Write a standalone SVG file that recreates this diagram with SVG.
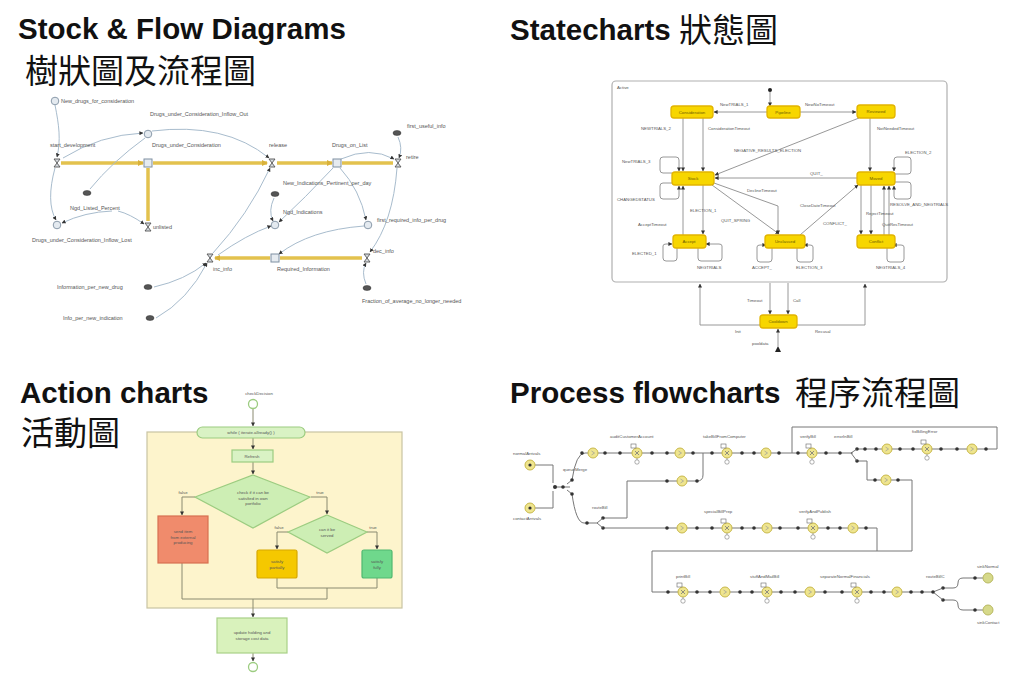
<svg xmlns="http://www.w3.org/2000/svg" width="1024" height="688" viewBox="0 0 1024 688">
<defs>
<style>
.title{font-family:"Liberation Sans",Arial,sans-serif;font-weight:bold;font-size:29.5px;fill:#111}
.cjk{font-family:"Liberation Sans","Noto Sans CJK TC",sans-serif;font-size:33px;fill:#111}
.sf{font-family:"Liberation Sans",Arial,sans-serif;font-size:5.5px;fill:#555}
.sm{font-family:"Liberation Sans",Arial,sans-serif;font-size:4.3px;fill:#555}
.st{font-family:"Liberation Sans",Arial,sans-serif;font-size:4.3px;fill:#6a5a00;text-anchor:middle}
.ac{font-family:"Liberation Sans",Arial,sans-serif;font-size:4.3px;fill:#555;text-anchor:middle}
.pipe{stroke:#e3c24e;stroke-width:3.5;fill:none}
.con{stroke:#a8bccd;stroke-width:1;fill:none}
.aux{fill:#e4eaf0;stroke:#8a9aaa;stroke-width:1}
.stock{fill:#e6ebf0;stroke:#7f90a2;stroke-width:1}
.cloud{fill:#555;stroke:#333;stroke-width:0.5}
.tr{stroke:#8c8c8c;stroke-width:0.9;fill:none}
.state{fill:#f7d600;stroke:#e2b400;stroke-width:1.3}
.al{stroke:#8a8a70;stroke-width:1;fill:none}
.pl{stroke:#777;stroke-width:1;fill:none}
.dot{fill:#333}
.dl{fill:#efe58e;stroke:#c8b84a;stroke-width:1}
.sink{fill:#d6d98a;stroke:#b8b860;stroke-width:1}
</style>
<marker id="ah" markerUnits="userSpaceOnUse" markerWidth="4" markerHeight="4" refX="3.6" refY="2" orient="auto"><path d="M0,0L4,2L0,4z" fill="#333"/></marker>
<marker id="ap" markerUnits="userSpaceOnUse" markerWidth="6" markerHeight="6" refX="5" refY="3" orient="auto"><path d="M0,0L6,3L0,6z" fill="#d9b13a"/></marker>
<g id="valve"><path d="M-3,-4L3,-4L-3,4L3,4Z" fill="#d6dbe0" stroke="#555" stroke-width="0.9"/></g>
<g id="svc"><circle r="5" class="dl"/><rect x="-6" y="-9" width="5" height="4" fill="#fff" stroke="#666" stroke-width="0.6"/><path d="M-2,-2L2,2M-2,2L2,-2" stroke="#777" stroke-width="0.8"/><line x1="0" y1="5" x2="0" y2="7" stroke="#777" stroke-width="0.6"/><circle cy="9" r="2.2" fill="#fff" stroke="#777" stroke-width="0.6"/></g>
<g id="dly"><circle r="5" class="dl"/><path d="M-1.5,-2L1.5,0L-1.5,2" fill="none" stroke="#999" stroke-width="0.7"/></g>
</defs>
<rect width="1024" height="688" fill="#fff"/>

<g id="titles">
<text class="title" x="18" y="39">Stock &amp; Flow Diagrams</text>
<text class="cjk" x="25" y="83">樹狀圖及流程圖</text>
<text class="title" x="510" y="40">Statecharts</text>
<text class="cjk" x="679" y="42">狀態圖</text>
<text class="title" x="20" y="403">Action charts</text>
<text class="cjk" x="21" y="445">活動圖</text>
<text class="title" x="510" y="403">Process flowcharts</text>
<text class="cjk" x="795" y="405">程序流程圖</text>
</g>

<!-- ================= STOCK & FLOW ================= -->
<g id="sf-connectors">
<path class="pipe" d="M61,163H143" marker-end="url(#ap)"/>
<path class="pipe" d="M153,163H267" marker-end="url(#ap)"/>
<path class="pipe" d="M148,168V221"/>
<path class="pipe" d="M277,163H332" marker-end="url(#ap)"/>
<path class="pipe" d="M342,163H393"/>
<path class="pipe" d="M270,258H215" marker-end="url(#ap)"/>
<path class="pipe" d="M280,258H362"/>
<path class="con" d="M55,105C59,125 61,140 57,157" marker-end="url(#ah)"/>
<path class="con" d="M63,158Q100,135 143,133" marker-end="url(#ah)"/>
<path class="con" d="M152,131Q225,122 269,158" marker-end="url(#ah)"/>
<path class="con" d="M55,168C49,190 49,208 56,220" marker-end="url(#ah)"/>
<path class="con" d="M145,138Q112,162 90,189"/>
<path class="con" d="M118,211Q130,214 144,224" marker-end="url(#ah)"/>
<path class="con" d="M112,211Q85,212 62,223" marker-end="url(#ah)"/>
<path class="con" d="M213,253Q248,215 270,168" marker-end="url(#ah)"/>
<path class="con" d="M218,255Q246,235 271,226" marker-end="url(#ah)"/>
<path class="con" d="M154,287Q185,280 206,263" marker-end="url(#ah)"/>
<path class="con" d="M156,318Q188,300 207,263" marker-end="url(#ah)"/>
<path class="con" d="M274,198Q268,211 273,221" marker-end="url(#ah)"/>
<path class="con" d="M333,168Q305,198 279,222" marker-end="url(#ah)"/>
<path class="con" d="M340,168Q360,190 366,220" marker-end="url(#ah)"/>
<path class="con" d="M341,159Q370,146 394,159" marker-end="url(#ah)"/>
<path class="con" d="M398,137Q403,148 399,158" marker-end="url(#ah)"/>
<path class="con" d="M397,168Q393,222 370,252" marker-end="url(#ah)"/>
<path class="con" d="M364,226Q310,230 279,254" marker-end="url(#ah)"/>
<path class="con" d="M366,284Q361,272 366,263" marker-end="url(#ah)"/>
</g>
<g id="sf-nodes">
<g id="n-new-drugs"><circle cx="55" cy="101" r="3.8" class="aux"/><text class="sf" x="61" y="103">New_drugs_for_consideration</text></g>
<g id="n-inflow-out"><circle cx="148" cy="134" r="3.8" class="aux"/><text class="sf" x="150" y="116">Drugs_under_Consideration_Inflow_Out</text></g>
<g id="n-start"><use href="#valve" x="57" y="163"/><text class="sf" x="50" y="147">start_development</text></g>
<g id="n-duc"><rect x="144" y="159" width="8" height="8" class="stock"/><text class="sf" x="152" y="147">Drugs_under_Consideration</text></g>
<g id="n-release"><use href="#valve" x="272" y="163"/><text class="sf" x="269" y="147">release</text></g>
<g id="n-dol"><rect x="333" y="159" width="8" height="8" class="stock"/><text class="sf" x="332" y="147">Drugs_on_List</text></g>
<g id="n-retire"><use href="#valve" x="398" y="163"/><text class="sf" x="406" y="159">retire</text></g>
<g id="n-first-useful"><ellipse cx="397" cy="133" rx="4" ry="2.5" class="cloud"/><text class="sf" x="407" y="128">first_useful_info</text></g>
<g id="n-new-ind"><ellipse cx="275" cy="194" rx="4" ry="2.5" class="cloud"/><text class="sf" x="283" y="185">New_Indications_Pertinent_per_day</text></g>
<g id="n-ngd-ind"><circle cx="275" cy="225" r="3.8" class="aux"/><text class="sf" x="283" y="214">Ngd_Indications</text></g>
<g id="n-first-req"><circle cx="368" cy="225" r="3.8" class="aux"/><text class="sf" x="377" y="222">first_required_info_per_drug</text></g>
<g id="n-req"><rect x="271" y="254" width="8" height="8" class="stock"/><text class="sf" x="277" y="271">Required_Information</text></g>
<g id="n-dec"><use href="#valve" x="367" y="258"/><text class="sf" x="373" y="253">dec_info</text></g>
<g id="n-fraction"><ellipse cx="367" cy="288" rx="4" ry="2.5" class="cloud"/><text class="sf" x="362" y="303">Fraction_of_average_no_longer_needed</text></g>
<g id="n-ngd-listed"><ellipse cx="87" cy="193" rx="4" ry="2.5" class="cloud"/><text class="sf" x="70" y="210">Ngd_Listed_Percent</text></g>
<g id="n-inflow-lost"><circle cx="57" cy="225" r="3.8" class="aux"/><text class="sf" x="32" y="242">Drugs_under_Consideration_Inflow_Lost</text></g>
<g id="n-unlisted"><use href="#valve" x="148" y="227"/><text class="sf" x="153" y="229">unlisted</text></g>
<g id="n-inc"><use href="#valve" x="210" y="258"/><text class="sf" x="213" y="271">inc_info</text></g>
<g id="n-info-drug"><ellipse cx="148" cy="287" rx="4" ry="2.5" class="cloud"/><text class="sf" x="57" y="289">Information_per_new_drug</text></g>
<g id="n-info-ind"><ellipse cx="150" cy="318" rx="4" ry="2.5" class="cloud"/><text class="sf" x="63" y="320">Info_per_new_indication</text></g>
</g>

<!-- ================= STATECHART ================= -->
<g id="sc-box"><rect x="612" y="81" width="335" height="201" rx="4" fill="#fff" stroke="#b0b0b0" stroke-width="1.2"/><text class="sm" x="617" y="89">Active</text></g>
<g id="sc-connectors">
<circle cx="770" cy="90" r="2" fill="#222"/>
<path class="tr" d="M770,92V106" marker-end="url(#ah)"/>
<path class="tr" d="M767,112H714" marker-end="url(#ah)"/>
<path class="tr" d="M800,112H856" marker-end="url(#ah)"/>
<path class="tr" d="M683,118V171" marker-end="url(#ah)"/>
<path class="tr" d="M703,118V171" marker-end="url(#ah)"/>
<path class="tr" d="M859,118L715,175" marker-end="url(#ah)"/>
<path class="tr" d="M857,178H715" marker-end="url(#ah)"/>
<path class="tr" d="M672,173H663Q660,173 660,170V160Q660,157 663,157H676Q679,157 679,160V171" marker-end="url(#ah)"/>
<path class="tr" d="M672,183H663Q660,183 660,186V196Q660,199 663,199H676Q679,199 679,196V186" marker-end="url(#ah)"/>
<path class="tr" d="M683,235V186" marker-end="url(#ah)"/>
<path class="tr" d="M703,185V234" marker-end="url(#ah)"/>
<path class="tr" d="M712,185L779,234" marker-end="url(#ah)"/>
<path class="tr" d="M714,183L778,206V234" marker-end="url(#ah)"/>
<path class="tr" d="M800,235L858,185" marker-end="url(#ah)"/>
<path class="tr" d="M870,118V171" marker-end="url(#ah)"/>
<path class="tr" d="M895,174H908Q911,174 911,171V160Q911,157 908,157H897Q894,157 894,160V171" marker-end="url(#ah)"/>
<path class="tr" d="M895,182H908Q911,182 911,185V196Q911,199 908,199H897Q894,199 894,196V186" marker-end="url(#ah)"/>
<path class="tr" d="M861,185V234" marker-end="url(#ah)"/>
<path class="tr" d="M871,185V234" marker-end="url(#ah)"/>
<path class="tr" d="M884,235V186" marker-end="url(#ah)"/>
<path class="tr" d="M889,235V186" marker-end="url(#ah)"/>
<path class="tr" d="M677,248V258Q677,261 674,261H666Q663,261 663,258V246Q663,244 666,244H672" marker-end="url(#ah)"/>
<path class="tr" d="M698,248V258Q698,261 701,261H719Q722,261 722,258V246Q722,244 719,244H706" marker-end="url(#ah)"/>
<path class="tr" d="M772,248V259Q772,262 769,262H760Q757,262 757,259V247Q757,245 760,245H766" marker-end="url(#ah)"/>
<path class="tr" d="M797,248V259Q797,262 800,262H810Q813,262 813,259V247Q813,245 810,245H804" marker-end="url(#ah)"/>
<path class="tr" d="M887,248V259Q887,262 890,262H901Q904,262 904,259V247Q904,245 901,245H893" marker-end="url(#ah)"/>
<path class="tr" d="M760,325H700V284" marker-end="url(#ah)"/>
<path class="tr" d="M797,325H865V284" marker-end="url(#ah)"/>
<path class="tr" d="M770,283V314" marker-end="url(#ah)"/>
<path class="tr" d="M788,283V314" marker-end="url(#ah)"/>
<path class="tr" d="M778,346V329" marker-end="url(#ah)"/>
<path d="M775,352L778,346L781,352Z" fill="#222"/>
<g class="sm">
<text x="720" y="106">NewTRIALS_1</text>
<text x="805" y="106">NewNoTimeout</text>
<text x="641" y="130">NEWTRIALS_2</text>
<text x="708" y="130">ConsiderationTimeout</text>
<text x="734" y="152">NEGATIVE_RESULTS_ELECTION</text>
<text x="810" y="175">QUIT_</text>
<text x="877" y="130">NotNeededTimeout</text>
<text x="622" y="163">NewTRIALS_3</text>
<text x="617" y="201">CHANGEDSTATUS</text>
<text x="905" y="154">ELECTION_2</text>
<text x="890" y="206">RESOLVE_AND_NEGTRIALS</text>
<text x="747" y="192">DeclineTimeout</text>
<text x="800" y="207">CloseDateTimeout</text>
<text x="638" y="226">AcceptTimeout</text>
<text x="690" y="212">ELECTION_1</text>
<text x="721" y="222">QUIT_SPRING</text>
<text x="823" y="225">CONFLICT_</text>
<text x="866" y="215">RejectTimeout</text>
<text x="882" y="226">QuitResTimeout</text>
<text x="632" y="255">ELECTED_1</text>
<text x="697" y="269">NEGTRIALS</text>
<text x="752" y="269">ACCEPT_</text>
<text x="796" y="269">ELECTION_3</text>
<text x="876" y="269">NEGTRIALS_4</text>
<text x="747" y="302">Timeout</text>
<text x="793" y="302">Call</text>
<text x="735" y="333">Init</text>
<text x="815" y="333">Recusal</text>
<text x="752" y="345">pooldata</text>
</g>
</g>
<g id="sc-consideration"><rect x="671" y="106" width="42" height="12" rx="3" class="state"/><text class="st" x="692" y="113.5">Consideration</text></g>
<g id="sc-pipeline"><rect x="767" y="106" width="33" height="12" rx="3" class="state"/><text class="st" x="783" y="113.5">Pipeline</text></g>
<g id="sc-reviewed"><rect x="857" y="105" width="38" height="13" rx="3" class="state"/><text class="st" x="876" y="113">Reviewed</text></g>
<g id="sc-stock"><rect x="672" y="172" width="42" height="13" rx="3" class="state"/><text class="st" x="693" y="180">Stock</text></g>
<g id="sc-moved"><rect x="857" y="172" width="38" height="13" rx="3" class="state"/><text class="st" x="876" y="180">Moved</text></g>
<g id="sc-accept"><rect x="673" y="235" width="33" height="13" rx="3" class="state"/><text class="st" x="689" y="243">Accept</text></g>
<g id="sc-unclassed"><rect x="765" y="235" width="40" height="13" rx="3" class="state"/><text class="st" x="785" y="243">Unclassed</text></g>
<g id="sc-conflict"><rect x="857" y="235" width="38" height="13" rx="3" class="state"/><text class="st" x="876" y="243">Conflict</text></g>
<g id="sc-cooldown"><rect x="760" y="315" width="37" height="13" rx="3" class="state"/><text class="st" x="778" y="323">Cooldown</text></g>

<!-- ================= ACTION CHART ================= -->
<g id="ac-panel"><rect x="147" y="432" width="255" height="176" fill="#fdf4cc" stroke="#c9c3a2" stroke-width="1.2"/></g>
<g id="ac-connectors">
<path class="al" d="M253,409V426" marker-end="url(#ah)"/>
<path class="al" d="M253,438V449" marker-end="url(#ah)"/>
<path class="al" d="M253,462V474" marker-end="url(#ah)"/>
<path class="al" d="M195,497H182V515" marker-end="url(#ah)"/>
<path class="al" d="M311,497H327V514" marker-end="url(#ah)"/>
<path class="al" d="M288,532H277V549" marker-end="url(#ah)"/>
<path class="al" d="M367,532H377V549" marker-end="url(#ah)"/>
<path class="al" d="M277,578V588H377V578M327,588V599"/>
<path class="al" d="M182,563V599H327"/>
<path class="al" d="M253,599V617" marker-end="url(#ah)"/>
<path class="al" d="M253,653V661" marker-end="url(#ah)"/>
<text class="ac" x="183" y="494">false</text>
<text class="ac" x="320" y="494">true</text>
<text class="ac" x="279" y="529">false</text>
<text class="ac" x="373" y="529">true</text>
</g>
<g id="ac-start"><text class="ac" x="259" y="395">checkDecision</text><circle cx="253" cy="404" r="4.5" fill="#fff" stroke="#9ccc80" stroke-width="1.3"/></g>
<g id="ac-while"><rect x="197" y="427" width="108" height="11" rx="5.5" fill="#d9f2c4" stroke="#9ccc80" stroke-width="1.2"/><text class="ac" x="251" y="434">while ( iterate.allready() )</text></g>
<g id="ac-refresh"><rect x="232" y="450" width="41" height="12" fill="#d9f2c4" stroke="#9ccc80" stroke-width="1.2"/><text class="ac" x="252" y="457.5">Refresh</text></g>
<g id="ac-check"><path d="M253,475L310,497L253,528L195,497Z" fill="#cdeeb4" stroke="#9ccc80" stroke-width="1.2"/><text class="ac" x="253" y="494">check if it can be</text><text class="ac" x="253" y="499.5">satisfied in own</text><text class="ac" x="253" y="505">portfolio</text></g>
<g id="ac-request"><rect x="158" y="516" width="50" height="47" fill="#f08b6c" stroke="#d87050" stroke-width="1.2"/><text class="ac" x="183" y="533" fill="#7a3a20">send item</text><text class="ac" x="183" y="538.5" fill="#7a3a20">from external</text><text class="ac" x="183" y="544" fill="#7a3a20">producing</text></g>
<g id="ac-serve"><path d="M327,515L367,532L327,553L288,532Z" fill="#cdeeb4" stroke="#9ccc80" stroke-width="1.2"/><text class="ac" x="327" y="531">can it be</text><text class="ac" x="327" y="536.5">served</text></g>
<g id="ac-partial"><rect x="257" y="550" width="40" height="28" rx="2" fill="#f5c800" stroke="#d8a800" stroke-width="1.2"/><text class="ac" x="277" y="563">satisfy</text><text class="ac" x="277" y="568.5">partially</text></g>
<g id="ac-fully"><rect x="362" y="550" width="30" height="28" rx="2" fill="#6fd88c" stroke="#50b870" stroke-width="1.2"/><text class="ac" x="377" y="563">satisfy</text><text class="ac" x="377" y="568.5">fully</text></g>
<g id="ac-update"><rect x="217" y="618" width="70" height="35" fill="#d9f2bc" stroke="#a8d088" stroke-width="1.2"/><text class="ac" x="252" y="634">update holding and</text><text class="ac" x="252" y="639.5">storage cost data</text></g>
<g id="ac-end"><circle cx="253" cy="667" r="4.5" fill="#fff" stroke="#9ccc80" stroke-width="1.3"/></g>

<!-- ================= PROCESS FLOWCHART ================= -->
<g id="pf-connectors">
<path class="pl" d="M535,465H553V483M535,508H553V491"/>
<path class="pl" d="M555,487H570"/>
<path class="pl" d="M572,480Q576,453 585,453H640"/>
<path class="pl" d="M640,453H770"/>
<path class="pl" d="M770,453H853"/>
<path class="pl" d="M572,494Q576,523 584,523H597"/>
<path class="pl" d="M603,518H627V481H697Q703,481 703,475V453"/>
<path class="pl" d="M603,528H877V551"/>
<path class="pl" d="M857,449H997V427H792V453"/>
<path class="pl" d="M857,461H867V480H912V551"/>
<path class="pl" d="M912,551H652V592H933"/>
<path class="pl" d="M943,588H953Q958,588 958,583V583Q958,578 963,578H983M943,600H953Q958,600 958,605Q958,610 963,610H983"/>
</g>
<g id="pf-nodes">
<g id="p-src1"><circle cx="530" cy="465" r="5" class="dl"/><circle cx="530" cy="465" r="1.6" fill="#333"/><text class="sm" x="513" y="455">normalArrivals</text></g>
<g id="p-src2"><circle cx="530" cy="508" r="5" class="dl"/><circle cx="530" cy="508" r="1.6" fill="#333"/><text class="sm" x="513" y="520">contactArrivals</text></g>
<g id="p-combine"><circle cx="555" cy="487" r="2" class="dot"/><circle cx="563" cy="487" r="1.8" class="dot"/><text class="sm" x="563" y="471">queueMerge</text></g>
<g id="p-sel1"><path d="M567,484L572,480M567,490L572,494" stroke="#555" stroke-width="0.8"/><circle cx="572" cy="480" r="1.8" class="dot"/><circle cx="572" cy="494" r="1.8" class="dot"/></g>
<g id="p-row1" class="dot">
<circle cx="582" cy="453" r="1.8"/><circle cx="605" cy="453" r="1.8"/><circle cx="620" cy="453" r="1.8"/><circle cx="652" cy="453" r="1.8"/><circle cx="667" cy="453" r="1.8"/><circle cx="693" cy="453" r="1.8"/><circle cx="712" cy="453" r="1.8"/><circle cx="742" cy="453" r="1.8"/><circle cx="754" cy="453" r="1.8"/><circle cx="779" cy="453" r="1.8"/><circle cx="798" cy="453" r="1.8"/><circle cx="826" cy="453" r="1.8"/><circle cx="840" cy="453" r="1.8"/>
<circle cx="667" cy="481" r="1.8"/><circle cx="697" cy="481" r="1.8"/>
<circle cx="587" cy="523" r="1.8"/><circle cx="603" cy="518" r="1.8"/><circle cx="603" cy="528" r="1.8"/>
<circle cx="667" cy="528" r="1.8"/><circle cx="697" cy="528" r="1.8"/><circle cx="712" cy="528" r="1.8"/><circle cx="742" cy="528" r="1.8"/><circle cx="754" cy="528" r="1.8"/><circle cx="780" cy="528" r="1.8"/><circle cx="798" cy="528" r="1.8"/><circle cx="828" cy="528" r="1.8"/><circle cx="840" cy="528" r="1.8"/><circle cx="866" cy="528" r="1.8"/>
<circle cx="857" cy="449" r="1.8"/><circle cx="857" cy="461" r="1.8"/><circle cx="865" cy="449" r="1.8"/><circle cx="876" cy="449" r="1.8"/><circle cx="900" cy="449" r="1.8"/><circle cx="913" cy="449" r="1.8"/><circle cx="941" cy="449" r="1.8"/><circle cx="957" cy="449" r="1.8"/><circle cx="986" cy="449" r="1.8"/>
<circle cx="875" cy="480" r="1.8"/><circle cx="898" cy="480" r="1.8"/>
<circle cx="668" cy="592" r="1.8"/><circle cx="697" cy="592" r="1.8"/><circle cx="710" cy="592" r="1.8"/><circle cx="740" cy="592" r="1.8"/><circle cx="752" cy="592" r="1.8"/><circle cx="781" cy="592" r="1.8"/><circle cx="795" cy="592" r="1.8"/><circle cx="825" cy="592" r="1.8"/><circle cx="842" cy="592" r="1.8"/><circle cx="871" cy="592" r="1.8"/><circle cx="884" cy="592" r="1.8"/><circle cx="911" cy="592" r="1.8"/><circle cx="922" cy="592" r="1.8"/>
<circle cx="943" cy="588" r="1.8"/><circle cx="943" cy="600" r="1.8"/><circle cx="975" cy="578" r="1.8"/><circle cx="975" cy="610" r="1.8"/>
</g>
<g id="p-d1"><use href="#dly" x="593" y="453"/></g>
<g id="p-s1"><use href="#svc" x="637" y="453"/><text class="sm" x="610" y="438">auditCustomerAccount</text></g>
<g id="p-d2"><use href="#dly" x="680" y="453"/></g>
<g id="p-s2"><use href="#svc" x="727" y="453"/><text class="sm" x="703" y="438">takeBillFromComputer</text></g>
<g id="p-d3"><use href="#dly" x="766" y="453"/></g>
<g id="p-s3"><use href="#svc" x="812" y="453"/><text class="sm" x="800" y="438">verifyBill</text></g>
<g id="p-sel2"><path d="M851,453L857,449M851,453L857,461" stroke="#555" stroke-width="0.8"/><text class="sm" x="834" y="438">errorInBill</text></g>
<g id="p-d4"><use href="#dly" x="887" y="449"/></g>
<g id="p-s4"><use href="#svc" x="927" y="449"/><text class="sm" x="912" y="433">fixBillingError</text></g>
<g id="p-d5"><use href="#dly" x="972" y="449"/></g>
<g id="p-d6"><use href="#dly" x="682" y="481"/></g>
<g id="p-d7"><use href="#dly" x="886" y="480"/></g>
<g id="p-sel3"><path d="M597,523L603,518M597,523L603,528" stroke="#555" stroke-width="0.8"/><text class="sm" x="592" y="509">routeBill</text></g>
<g id="p-d8"><use href="#dly" x="682" y="528"/></g>
<g id="p-s5"><use href="#svc" x="727" y="528"/><text class="sm" x="704" y="513">specialBillPrep</text></g>
<g id="p-d9"><use href="#dly" x="767" y="528"/></g>
<g id="p-s6"><use href="#svc" x="813" y="528"/><text class="sm" x="799" y="513">verifyAndPublish</text></g>
<g id="p-d10"><use href="#dly" x="853" y="528"/></g>
<g id="p-s7"><use href="#svc" x="683" y="592"/><text class="sm" x="676" y="578">printBill</text></g>
<g id="p-d11"><use href="#dly" x="725" y="592"/></g>
<g id="p-s8"><use href="#svc" x="767" y="592"/><text class="sm" x="750" y="578">stuffAndMailBill</text></g>
<g id="p-d12"><use href="#dly" x="810" y="592"/></g>
<g id="p-s9"><use href="#svc" x="857" y="592"/><text class="sm" x="820" y="578">separateNormalFinancials</text></g>
<g id="p-d13"><use href="#dly" x="897" y="592"/></g>
<g id="p-sel4"><path d="M933,592L943,588M933,592L943,600" stroke="#555" stroke-width="0.8"/><circle cx="933" cy="592" r="1.8" fill="#333"/><text class="sm" x="926" y="578">routeBillC</text></g>
<g id="p-sink1"><circle cx="988" cy="578" r="5" class="sink"/><text class="sm" x="977" y="568">sinkNormal</text></g>
<g id="p-sink2"><circle cx="988" cy="610" r="5" class="sink"/><text class="sm" x="977" y="624">sinkContact</text></g>
</g>
</svg>
